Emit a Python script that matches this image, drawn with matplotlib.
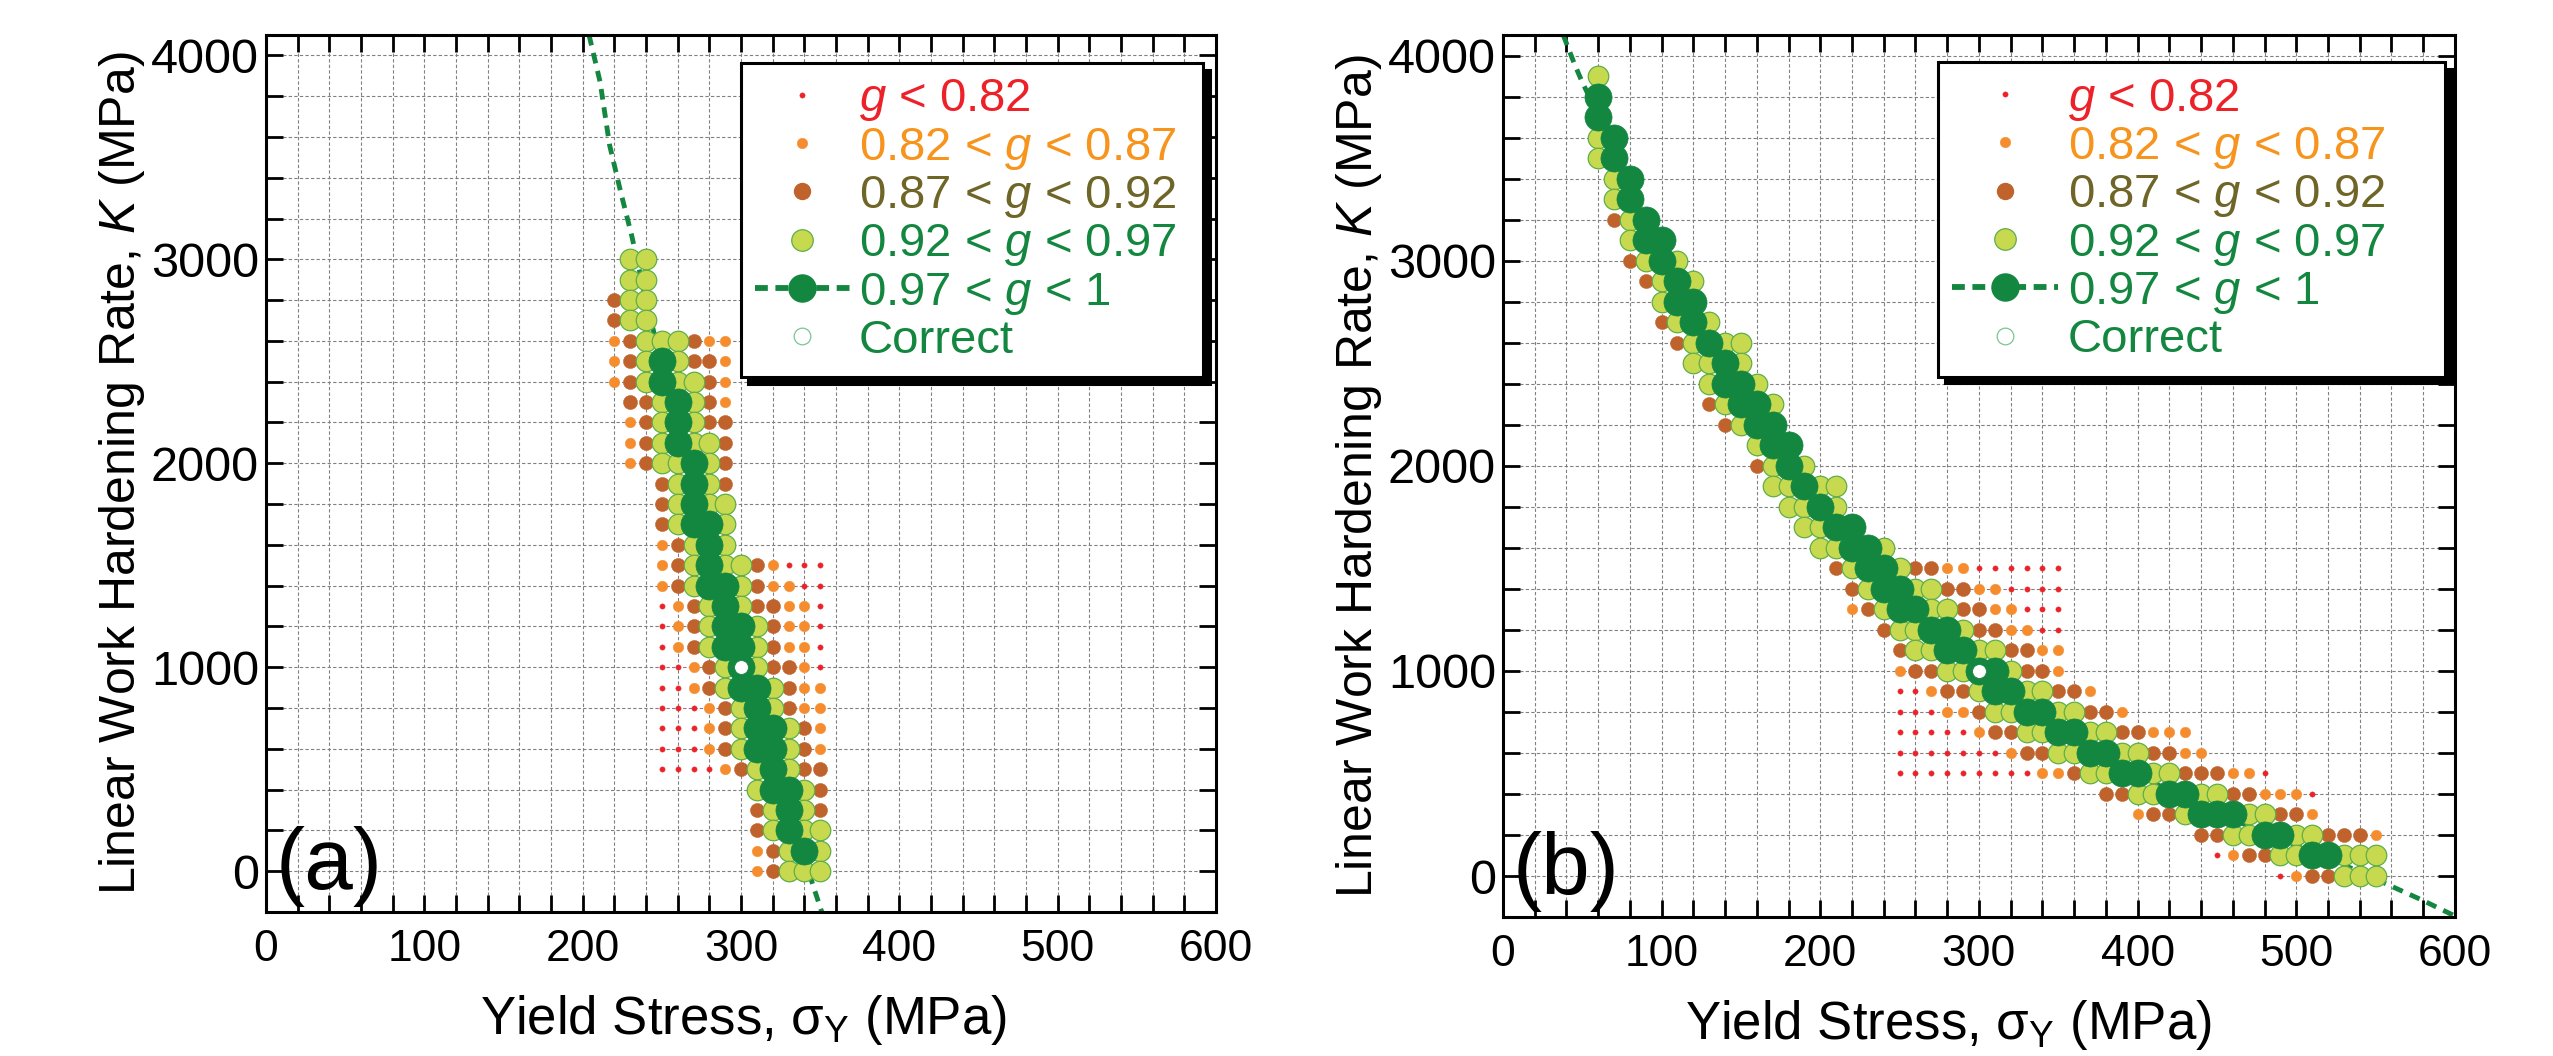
import matplotlib
matplotlib.use('Agg')
import matplotlib.pyplot as plt
from matplotlib.lines import Line2D
from matplotlib.ticker import MultipleLocator

plt.rcParams['font.family'] = 'Liberation Sans'
plt.rcParams['mathtext.fontset'] = 'custom'
plt.rcParams['mathtext.rm'] = 'Liberation Sans'
plt.rcParams['mathtext.it'] = 'Liberation Sans:italic'

# goodness-of-fit maps: one row per K, first sigma_y, one letter per 10 MPa step
# r: g<0.82  o: 0.82-0.87  b: 0.87-0.92  l: 0.92-0.97  d: 0.97-1
a_rows_k = [3000, 2900, 2800, 2700, 2600, 2500, 2400, 2300, 2200, 2100, 2000,
            1900, 1800, 1700, 1600, 1500, 1400, 1300, 1200, 1100, 1000,
            900, 800, 700, 600, 500, 400, 300, 200, 100, 0]
a_rows_x0 = [230, 230, 220, 220, 220, 220, 220, 230, 230, 230, 230,
             250, 250, 250, 250, 250, 250, 250, 250, 250, 250,
             250, 250, 250, 250, 250, 310, 310, 310, 310, 310]
a_rows_codes = ['ll', 'll', 'bll', 'bll', 'oblllboo', 'obldlbbo', 'obldllbo',
                'bbldlbo', 'obldlbb', 'obldllb', 'oblldlb',
                'bldlb', 'bldll', 'blddl', 'obldl', 'obldllborrr',
                'oblddlboorr', 'robldlbboor', 'roblddlboor', 'roblddlboor',
                'rrobldlbbor', 'rroblddlboo', 'rrrobldlboo', 'rrroblddlbo',
                'rrroblddlbo', 'rrrrobldlbb', 'lddlb', 'bldlb', 'bldll',
                'obldl', 'oblll']

b_rows_k = [3900, 3800, 3700, 3600, 3500, 3400, 3300, 3200, 3100, 3000,
            2900, 2800, 2700, 2600, 2500, 2400, 2300, 2200, 2100, 2000,
            1900, 1800, 1700, 1600, 1500, 1400, 1300, 1200, 1100, 1000,
            900, 800, 700, 600, 500, 400, 300, 200, 100, 0]
b_rows_x0 = [60, 60, 60, 60, 60, 70, 70, 70, 80, 80,
             90, 100, 100, 110, 120, 130, 130, 140, 160, 160,
             170, 180, 190, 200, 210, 220, 220, 240, 250, 250,
             250, 250, 250, 250, 250, 380, 400, 440, 450, 490]
b_rows_codes = ['l', 'd', 'd', 'ld', 'ld', 'ld', 'ld', 'bld', 'ldd', 'bldl',
                'bldl', 'ldd', 'bldl', 'bldll', 'lldl', 'lddl', 'blddl', 'bldd',
                'ldd', 'bldl', 'lldll', 'lldl', 'lldd', 'llddl',
                'blddlbboorrrrrr', 'blddllbboorrrr', 'oblddllbboorrr',
                'bllddlbboorr', 'bllddllbboo', 'obbllddlbbo', 'rrobblddllbbo',
                'rrroobllddllbbo', 'rrrrrobbllddllbbooo',
                'rrrrrrrobbllddllbboo', 'rrrrrrrrroobllddllbbboor',
                'bbllddllbbooor', 'obbldddllbbo', 'bbllddllbbbo', 'robbllddlll',
                'robblll']

# best-fit curves through the g = 1 valley
a_curve_x = [204, 211, 217, 224, 231, 240, 250, 260, 270, 280, 290, 300,
             310, 320, 330, 340, 351]
a_curve_k = [4100, 3870, 3560, 3330, 3115, 2800, 2480, 2180, 1860, 1540,
             1260, 1000, 740, 490, 260, 60, -200]
b_curve_x = [38, 45, 50, 60, 70, 80, 90, 100, 110, 120, 130, 140, 155, 170,
             185, 200, 220, 240, 260, 280, 300, 320, 340, 360, 380, 400, 425,
             450, 480, 510, 540, 560, 580, 600]
b_curve_k = [4100, 3960, 3870, 3710, 3520, 3340, 3170, 3010, 2860, 2710, 2570,
             2440, 2260, 2090, 1930, 1790, 1620, 1450, 1290, 1140, 1000, 870,
             760, 660, 570, 490, 400, 310, 210, 120, 20, -50, -120, -195]

correct_x = 300
correct_k = 1000

labels = ['$g$ < 0.82', '0.82 < $g$ < 0.87', '0.87 < $g$ < 0.92',
          '0.92 < $g$ < 0.97', '0.97 < $g$ < 1', 'Correct']

c_red = '#ED2128'
c_org = '#F58D2E'
c_brn = '#C0622B'
c_lg = '#C6D94F'
c_lge = '#5FAE48'
c_dg = '#13873F'
text_colors = [c_red, '#F7941D', '#6E6527', c_dg, c_dg, c_dg]

styles = {
    'r': dict(ms=3.8, mfc=c_red, mec=c_red, mew=0.3),
    'o': dict(ms=7.6, mfc=c_org, mec=c_org, mew=0.3),
    'b': dict(ms=10.2, mfc=c_brn, mec=c_brn, mew=0.3),
    'l': dict(ms=14.8, mfc=c_lg, mec=c_lge, mew=0.9),
    'd': dict(ms=19.5, mfc=c_dg, mec=c_dg, mew=0.5),
}


def split_rows(rows_k, rows_x0, rows_codes):
    pts = {c: ([], []) for c in 'robld'}
    for k, x0, codes in zip(rows_k, rows_x0, rows_codes):
        for i, c in enumerate(codes):
            if c in pts:
                pts[c][0].append(x0 + 10 * i)
                pts[c][1].append(k)
    return pts


def draw_panel(ax, rows, curve_x, curve_k, tag, leg_box, hlen, xlab_x):
    ax.set_xlim(0, 600)
    ax.set_ylim(-200, 4100)
    ax.xaxis.set_major_locator(MultipleLocator(100))
    ax.xaxis.set_minor_locator(MultipleLocator(20))
    ax.yaxis.set_major_locator(MultipleLocator(1000))
    ax.yaxis.set_minor_locator(MultipleLocator(200))
    ax.grid(which='both', color='0.5', lw=0.8, ls=(0, (3, 2)), zorder=0)
    ax.set_axisbelow(True)
    ax.tick_params(which='both', direction='in', top=True, right=True,
                   length=12, width=2)
    ax.tick_params(axis='x', pad=12, labelsize=32)
    ax.tick_params(axis='y', pad=5, labelsize=35)
    for s in ax.spines.values():
        s.set_linewidth(2.2)

    ax.plot(curve_x, curve_k, color=c_dg, lw=3.5, dashes=(2.2, 1.6), zorder=2)
    pts = split_rows(*rows)
    for c in 'robld':
        ax.plot(pts[c][0], pts[c][1], ls='none', marker='o', zorder=3,
                **styles[c])
    ax.plot([correct_x], [correct_k], ls='none', marker='o', ms=10,
            mfc='white', mec=c_dg, mew=0.6, zorder=4)

    ax.text(0.010, 0.026, tag, transform=ax.transAxes, fontsize=63,
            ha='left', va='baseline')
    ax.set_xlabel('Yield Stress, σ$_{\\mathrm{Y}}$ (MPa)', fontsize=38,
                  labelpad=17)
    ax.xaxis.label.set_x(xlab_x)
    ax.set_ylabel('Linear Work Hardening Rate, $K$ (MPa)', fontsize=36,
                  labelpad=3)

    handles = [
        Line2D([], [], ls='none', marker='o', **styles['r']),
        Line2D([], [], ls='none', marker='o', **styles['o']),
        Line2D([], [], ls='none', marker='o', ms=11.5, mfc=c_brn, mec=c_brn),
        Line2D([], [], ls='none', marker='o', ms=15.5, mfc=c_lg, mec=c_lge,
               mew=0.9),
        Line2D([], [], color=c_dg, lw=4.2, dashes=(2.2, 1.3), marker='o',
               ms=19.5, mfc=c_dg, mec=c_dg),
        Line2D([], [], ls='none', marker='o', ms=12, mfc='white',
               mec='#7CC496', mew=0.9),
    ]
    leg = ax.legend(handles, labels, loc='upper left', bbox_to_anchor=leg_box,
                    mode='expand', borderaxespad=0, fontsize=34,
                    labelspacing=0.05, handlelength=hlen, handletextpad=0.2,
                    borderpad=0.3, fancybox=False, framealpha=1,
                    edgecolor='black',
                    shadow={'color': 'black', 'alpha': 1, 'ox': 5, 'oy': -5})
    leg.get_frame().set_linewidth(2.2)
    leg.set_zorder(10)
    for t, col in zip(leg.get_texts(), text_colors):
        t.set_color(col)


fig = plt.figure(figsize=(25.53, 10.56), dpi=100)
ax1 = fig.add_axes([0.1042, 0.1364, 0.3721, 0.8305])
ax2 = fig.add_axes([0.5887, 0.1316, 0.3729, 0.8352])

draw_panel(ax1, (a_rows_k, a_rows_x0, a_rows_codes), a_curve_x, a_curve_k,
           '(a)', (0.5, 0.6, 0.486, 0.368), 2.0, 0.503)
draw_panel(ax2, (b_rows_k, b_rows_x0, b_rows_codes), b_curve_x, b_curve_k,
           '(b)', (0.457, 0.6, 0.533, 0.369), 2.25, 0.468)

fig.savefig('out.png', dpi=100)
